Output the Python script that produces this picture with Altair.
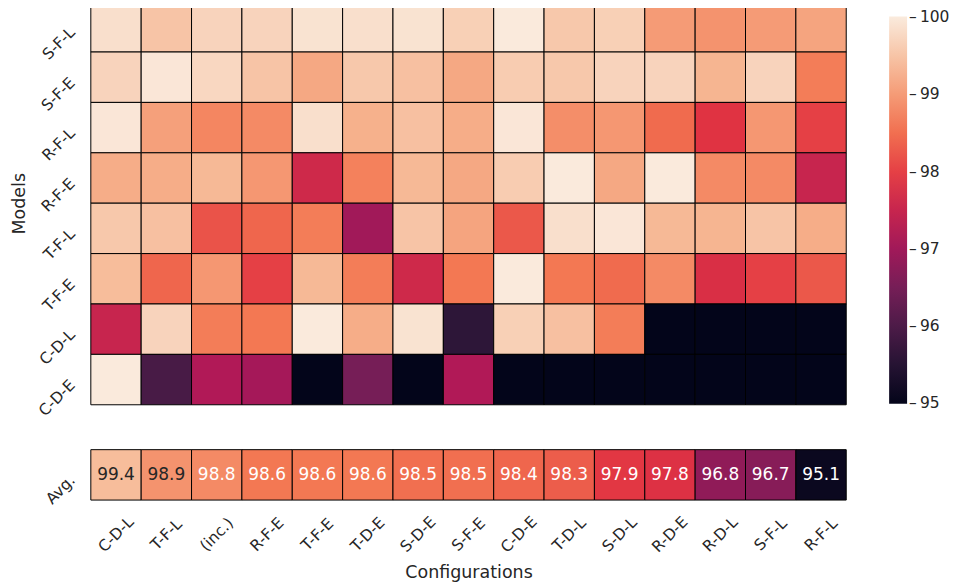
import altair as alt
import pandas as pd

configs = ["C-D-L", "T-F-L", "(inc.)", "R-F-E", "T-F-E", "T-D-E", "S-D-E", "S-F-E",
           "C-D-E", "T-D-L", "S-D-L", "R-D-E", "R-D-L", "S-F-L", "R-F-L"]
models = ["S-F-L", "S-F-E", "R-F-L", "R-F-E", "T-F-L", "T-F-E", "C-D-L", "C-D-E"]

row_S_F_L = [99.85, 99.5, 99.7, 99.7, 99.9, 99.85, 99.9, 99.65, 100.0, 99.55, 99.65, 99.0, 98.9, 99.0, 99.1]
row_S_F_E = [99.7, 99.95, 99.75, 99.5, 99.15, 99.55, 99.45, 99.15, 99.6, 99.55, 99.7, 99.7, 99.3, 99.7, 98.65]
row_R_F_L = [99.95, 99.05, 98.75, 98.8, 99.85, 99.25, 99.45, 99.2, 99.95, 98.85, 98.95, 98.45, 97.85, 98.95, 98.0]
row_R_F_E = [99.2, 99.2, 99.35, 98.95, 97.6, 98.7, 99.35, 99.15, 99.6, 100.0, 99.15, 100.0, 98.8, 98.8, 97.5]
row_T_F_L = [99.55, 99.45, 98.2, 98.4, 98.65, 97.0, 99.5, 99.1, 98.25, 99.85, 99.95, 99.35, 99.3, 99.5, 99.2]
row_T_F_E = [99.4, 98.4, 98.95, 98.0, 99.35, 98.65, 97.6, 98.6, 100.0, 98.6, 98.45, 98.8, 97.75, 98.0, 98.25]
row_C_D_L = [97.5, 99.7, 98.65, 98.6, 100.0, 99.2, 99.9, 95.6, 99.65, 99.45, 98.65, 93.8, 91.0, 89.8, 85.1]
row_C_D_E = [100.0, 95.95, 97.2, 97.05, 94.3, 96.5, 92.9, 97.2, 90.2, 90.6, 88.7, 93.8, 91.0, 89.8, 85.1]

avg_values = [99.4, 98.9, 98.8, 98.6, 98.6, 98.6, 98.5, 98.5, 98.4, 98.3, 97.9, 97.8, 96.8, 96.7, 95.1]

rows = [row_S_F_L, row_S_F_E, row_R_F_L, row_R_F_E, row_T_F_L, row_T_F_E, row_C_D_L, row_C_D_E]
records = []
for m, vals in zip(models, rows):
    for c, v in zip(configs, vals):
        records.append({"model": m, "config": c, "value": v})
df = pd.DataFrame(records)
avg_df = pd.DataFrame({"row": ["Avg."] * len(configs), "config": configs, "value": avg_values})

rocket = ["#03051a", "#35193e", "#701f57", "#ad1759", "#e13342", "#f37651", "#f6b48f", "#faebdd"]
stops = [95 + 5 * i / 7 for i in range(8)]
stops[0] = 94.99
stops[-1] = 100.01


def cscale():
    return alt.Scale(domain=stops, range=rocket, clamp=True, interpolate="rgb")


def band():
    return alt.Scale(paddingInner=0, paddingOuter=0)


ylab = dict(labelAngle=315, labelAlign="right", labelBaseline="middle",
            labelPadding=19, labelOffset=3, ticks=False, domain=False)

main = alt.Chart(df).mark_rect(stroke="black", strokeWidth=1).encode(
    x=alt.X("config:N", sort=configs, axis=None, scale=band()),
    y=alt.Y("model:N", sort=models, scale=band(), title="Models",
            axis=alt.Axis(titlePadding=8, **ylab)),
    color=alt.Color("value:Q", scale=cscale(),
                    legend=alt.Legend(orient="none", legendX=800, legendY=15,
                                      gradientLength=388, gradientThickness=18,
                                      gradientStrokeWidth=0,
                                      values=[95, 96, 97, 98, 99, 100], title=None,
                                      labelExpr="'\u2013\u2009' + datum.label",
                                      labelFontSize=15.5, labelOffset=2,
                                      labelBaseline="middle", labelColor="#262626")),
).properties(width=757, height=404)

base_avg = alt.Chart(avg_df).encode(
    x=alt.X("config:N", sort=configs, scale=band(), title="Configurations",
            axis=alt.Axis(labelAngle=315, labelAlign="center", labelBaseline="middle",
                          labelPadding=34, ticks=False, domain=False, titlePadding=8)),
    y=alt.Y("row:N", scale=band(), title=None, axis=alt.Axis(**ylab)),
)
avg_rect = base_avg.mark_rect(stroke="black", strokeWidth=1).encode(
    color=alt.Color("value:Q", scale=cscale(), legend=None)
)
avg_text = base_avg.mark_text(fontSize=17, font="DejaVu Sans").encode(
    text=alt.Text("value:Q", format=".1f"),
    color=alt.condition("datum.value >= 98.85", alt.value("#262626"), alt.value("white")),
)
avg = alt.layer(avg_rect, avg_text).properties(width=757, height=50.5)

chart = alt.vconcat(main, avg, spacing=29).resolve_scale(color="independent").properties(
    padding={"left": 2, "top": -8, "right": 0, "bottom": 0}
).configure(font="DejaVu Sans").configure_axis(
    labelFont="DejaVu Sans", titleFont="DejaVu Sans",
    labelColor="#262626", titleColor="#262626",
    labelFontSize=15.5, titleFontSize=17.5, titleFontWeight="normal",
).configure_legend(labelFont="DejaVu Sans").configure_view(stroke=None)

chart.save("out.html", embed_options={"renderer": "svg", "actions": False})
